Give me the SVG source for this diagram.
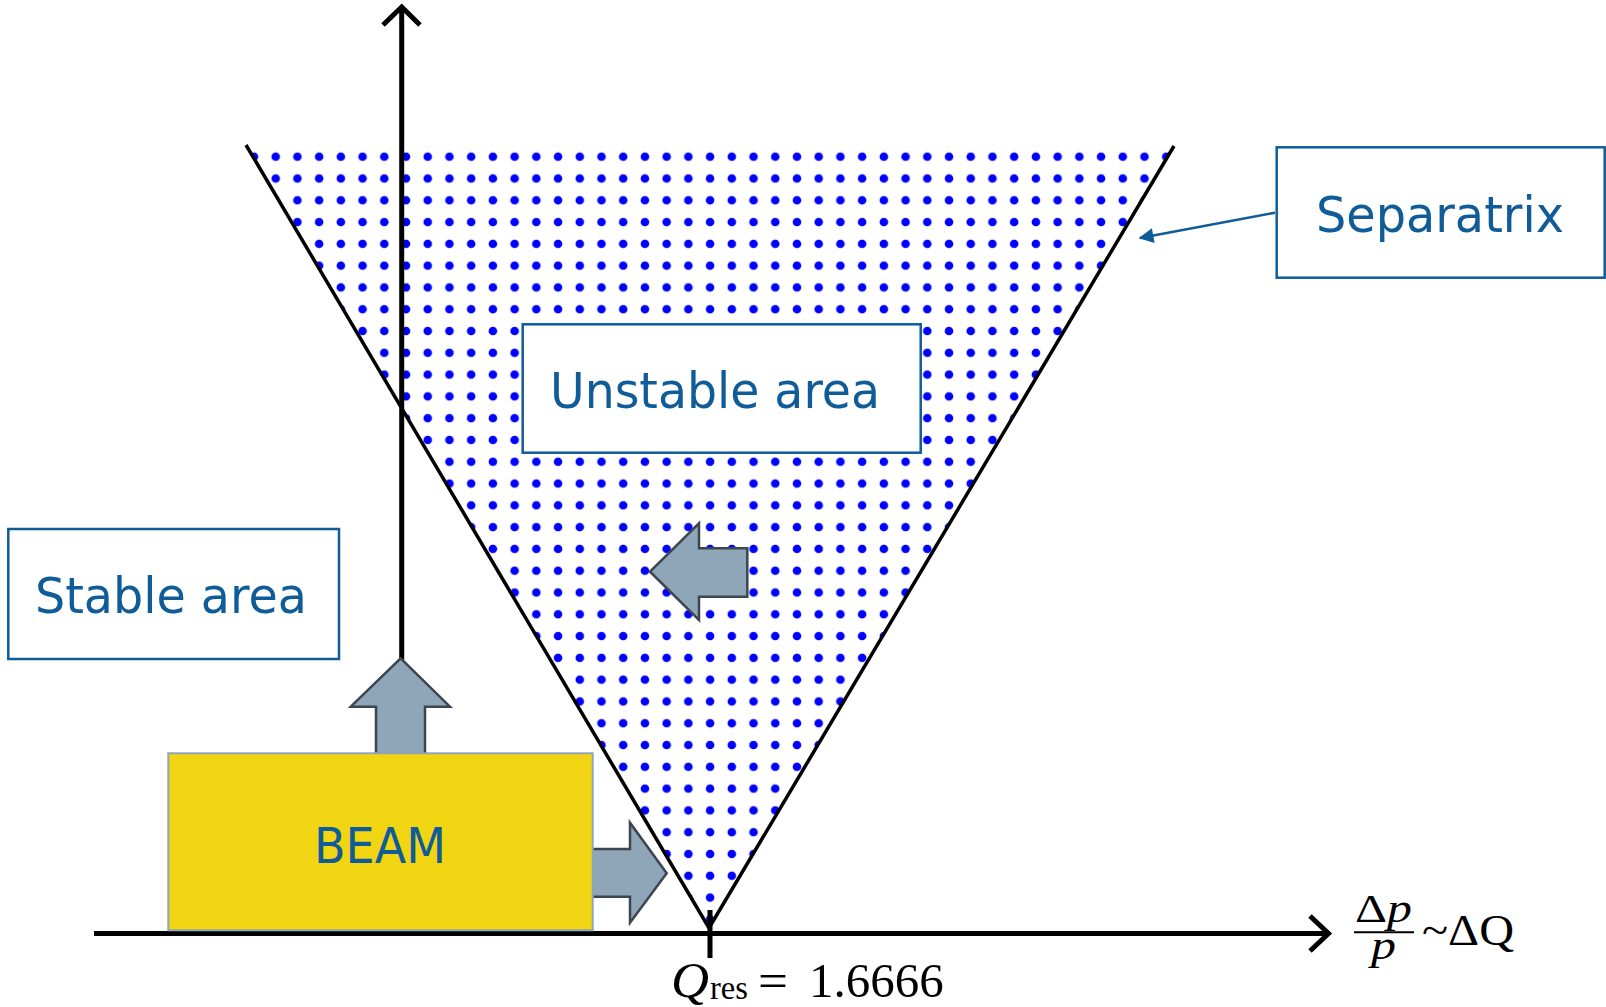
<svg xmlns="http://www.w3.org/2000/svg" width="1606" height="1007" viewBox="0 0 1606 1007">
<style>
.box{fill:#fff;stroke:#0F5C99;stroke-width:2.5}
.lbl{font-family:"DejaVu Sans",Verdana,sans-serif;font-size:49px;fill:#0F5C99}
.axis{stroke:#000;stroke-width:5;fill:none}
.sep{stroke:#000;stroke-width:3.5;fill:none}
.blk{fill:#8FA5B8;stroke:#3C4650;stroke-width:2.5;stroke-linejoin:miter}
.math{font-family:"Liberation Serif","Times New Roman",serif;fill:#000}
</style>
<defs>
<pattern id="dots" patternUnits="userSpaceOnUse" x="264.84" y="145.8" width="21.72" height="21.79">
<circle cx="10.86" cy="10.895" r="4.3" fill="#0000FF"/>
</pattern>
<marker id="ah" viewBox="0 0 10 10" refX="9" refY="5" markerWidth="6.5" markerHeight="6" orient="auto" markerUnits="strokeWidth">
<path d="M0,0 L10,5 L0,10 Z" fill="#0F5C99"/>
</marker>
</defs>
<rect width="1606" height="1007" fill="#fff"/>

<g id="unstable-region">
<polygon points="246,145 1174,146 709,928" fill="url(#dots)"/>
<polyline class="sep" points="246,145 709,928 1174,146"/>
</g>

<g id="axes">
<line class="axis" x1="401.7" y1="9" x2="401.7" y2="933.5"/>
<polyline class="axis" stroke-width="4" points="383,25 401.7,7 420,25"/>
<line class="axis" x1="94" y1="933.5" x2="1327" y2="933.5"/>
<polyline class="axis" stroke-width="4" points="1310,916 1328.5,933.5 1310,951"/>
<line class="axis" stroke-width="5.5" x1="710" y1="910" x2="710" y2="958"/>
</g>

<g id="axis-labels">
<text class="math" font-size="50" x="671" y="997" font-style="italic" textLength="38" lengthAdjust="spacingAndGlyphs">Q</text>
<text class="math" font-size="34" x="710" y="999" textLength="38" lengthAdjust="spacingAndGlyphs">res</text>
<text class="math" font-size="49" x="758" y="997" textLength="30" lengthAdjust="spacingAndGlyphs">=</text>
<text class="math" font-size="49" x="809" y="997">1.6666</text>
<text class="math" font-size="40" x="1355" y="922" textLength="57" lengthAdjust="spacingAndGlyphs"><tspan>Δ</tspan><tspan font-style="italic">p</tspan></text>
<line x1="1354" y1="932.3" x2="1414" y2="932.3" stroke="#000" stroke-width="2"/>
<text class="math" font-size="42" x="1371" y="959" font-style="italic" textLength="25" lengthAdjust="spacingAndGlyphs">p</text>
<text class="math" font-size="44" x="1422" y="945" textLength="92" lengthAdjust="spacingAndGlyphs">~ΔQ</text>
</g>

<g id="stable-area">
<rect class="box" x="8.3" y="529" width="330.7" height="130"/>
<text class="lbl" x="35" y="612.7" textLength="272" lengthAdjust="spacingAndGlyphs">Stable area</text>
</g>

<g id="unstable-area">
<rect class="box" x="522.7" y="324.3" width="398" height="128.4"/>
<text class="lbl" x="550" y="408.3" textLength="330" lengthAdjust="spacingAndGlyphs">Unstable area</text>
</g>

<g id="separatrix">
<rect class="box" x="1276.7" y="147.3" width="328" height="130.4"/>
<text class="lbl" x="1316" y="231.7" textLength="248" lengthAdjust="spacingAndGlyphs">Separatrix</text>
</g>

<g id="connectors">
<line x1="1275" y1="212.7" x2="1140" y2="238" stroke="#0F5C99" stroke-width="2.5" marker-end="url(#ah)"/>
<polygon class="blk" points="400.7,658.3 450,706.7 425,706.7 425,754.5 376,754.5 376,706.7 350.7,706.7"/>
<polygon class="blk" points="650,571.7 699,523.3 699,548.3 747.3,548.3 747.3,596.7 699,596.7 699,620"/>
<polygon class="blk" points="666.7,873.3 630,822.7 630,849 590,849 590,896.7 630,896.7 630,922.7"/>
</g>

<g id="beam">
<rect x="168.3" y="753.3" width="424.4" height="177" fill="#F1D412" stroke="#8FA5B8" stroke-width="2"/>
<text class="lbl" x="314" y="862.7" textLength="132" lengthAdjust="spacingAndGlyphs">BEAM</text>
</g>
</svg>
